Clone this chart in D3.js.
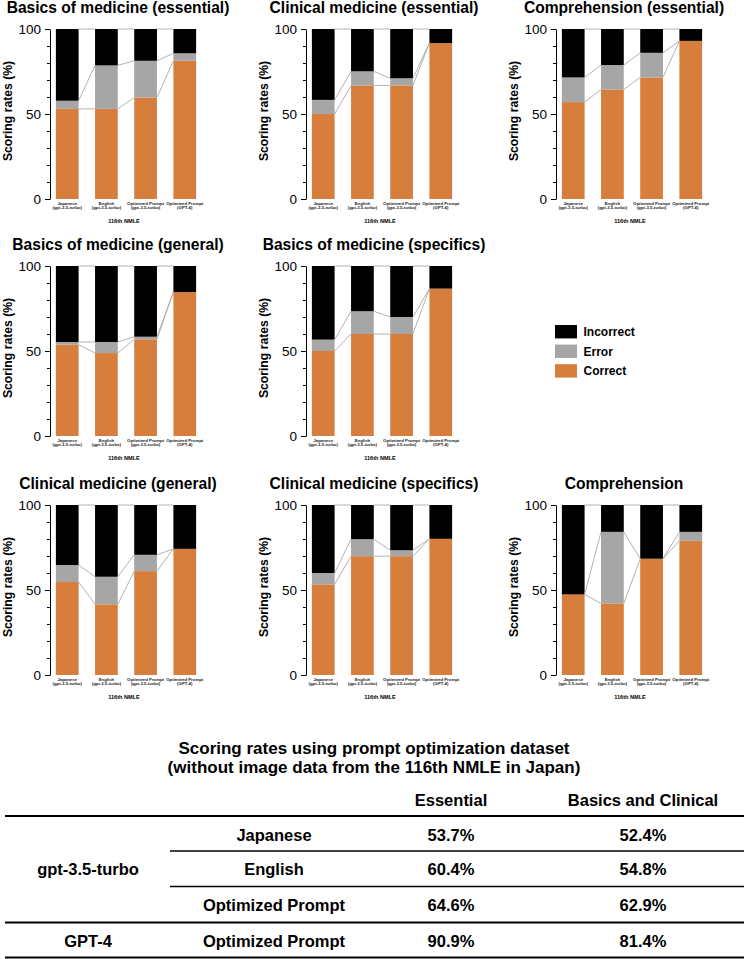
<!DOCTYPE html>
<html>
<head>
<meta charset="utf-8">
<script src="https://cdn.jsdelivr.net/npm/d3@7"></script>
<style>
  html, body { margin: 0; padding: 0; background: #fff; }
  svg { display: block; font-family: "Liberation Sans", Arial, Helvetica, sans-serif; }
</style>
</head>
<body>
<svg id="chart" width="744" height="959"></svg>
<script>
'use strict';

// categories on the x axis (two lines each)
const categories = ["ja", "en", "opt35", "opt4"];
const catLine1 = ["Japanese", "English", "Optimized Prompt", "Optimized Prompt"];
const catLine2 = ["(gpt-3.5-turbo)", "(gpt-3.5-turbo)", "(gpt-3.5-turbo)", "(GPT-4)"];
const segKeys = ["correct", "error", "incorrect"];
const legendLabels = ["Incorrect", "Error", "Correct"];
const yTicksMajor = [0, 50, 100];
const yTicksMinor = [10, 20, 30, 40, 60, 70, 80, 90];

// panel titles
const titles = [
  "Basics of medicine (essential)", "Clinical medicine (essential)", "Comprehension (essential)",
  "Basics of medicine (general)", "Basics of medicine (specifics)",
  "Clinical medicine (general)", "Clinical medicine (specifics)", "Comprehension"
];

// scoring rates (%) per panel, order: Japanese, English, Optimized 3.5, Optimized GPT-4
const correct = [
  [53.0, 53.0, 59.7, 81.3],
  [50.0, 66.8, 66.8, 91.7],
  [57.0, 64.4, 71.5, 93.0],
  [53.7, 48.8, 56.9, 84.7],
  [50.0, 60.0, 60.0, 86.7],
  [54.7, 41.6, 61.1, 74.2],
  [53.3, 69.9, 69.9, 80.1],
  [47.4, 42.1, 68.4, 78.9]
];
const error = [
  [4.8, 25.6, 21.6, 4.4],
  [8.3, 8.3, 4.2, 0],
  [14.5, 14.4, 14.5, 0],
  [1.6, 6.5, 1.5, 0],
  [6.7, 13.4, 10.0, 0],
  [10.0, 16.2, 9.6, 0],
  [6.7, 10.0, 3.5, 0],
  [0, 42.1, 0, 5.3]
];
const incorrect = [
  [42.2, 21.4, 18.7, 14.3],
  [41.7, 24.9, 29.0, 8.3],
  [28.5, 21.2, 14.0, 7.0],
  [44.7, 44.7, 41.6, 15.3],
  [43.3, 26.6, 30.0, 13.3],
  [35.3, 42.2, 29.3, 25.8],
  [40.0, 20.1, 26.6, 19.9],
  [52.6, 15.8, 31.6, 15.8]
];

// table below the charts
const tableTitle = ["Scoring rates using prompt optimization dataset",
                    "(without image data from the 116th NMLE in Japan)"];
const tableCols = ["Essential", "Basics and Clinical"];
const tableModels = ["gpt-3.5-turbo", "gpt-3.5-turbo", "gpt-3.5-turbo", "GPT-4"];
const tablePrompts = ["Japanese", "English", "Optimized Prompt", "Optimized Prompt"];
const tableEssential = ["53.7%", "60.4%", "64.6%", "90.9%"];
const tableBasicsClinical = ["52.4%", "54.8%", "62.9%", "81.4%"];

// layout settings
const CONFIG = {
  colX: [50, 306, 556],
  rowTop: [29, 266, 505],
  plotH: 170,
  plotW: 152,
  slots: [[0, 0], [0, 1], [0, 2], [1, 0], [1, 1], [2, 0], [2, 1], [2, 2]],
  colors: { correct: "#d77e3c", error: "#a6a6a6", incorrect: "#000000" },
  linkColor: "#a9a9a9"
};

const svg = d3.select("#chart");
svg.append("rect").attr("width", 744).attr("height", 959).attr("fill", "#fff");

titles.forEach((title, p) => {
  const [row, col] = CONFIG.slots[p];
  const left = CONFIG.colX[col];
  const top = CONFIG.rowTop[row];
  const g = svg.append("g").attr("transform", `translate(${left},${top})`);

  const x = d3.scaleBand().domain(categories).range([0, CONFIG.plotW])
    .paddingInner(0.42).paddingOuter(0.15);
  const y = d3.scaleLinear().domain([0, 100]).range([CONFIG.plotH, 0]);

  const rows = categories.map((c, i) => ({
    cat: c, correct: correct[p][i], error: error[p][i], incorrect: incorrect[p][i]
  }));
  const series = d3.stack().keys(segKeys)(rows);

  // stacked bars
  g.selectAll(".layer").data(series).enter().append("g")
    .attr("fill", d => CONFIG.colors[d.key])
    .selectAll("rect").data(d => d).enter().append("rect")
    .attr("x", d => x(d.data.cat))
    .attr("y", d => y(d[1]))
    .attr("width", x.bandwidth())
    .attr("height", d => y(d[0]) - y(d[1]));

  // connector lines between neighbouring bars
  series.forEach(s => {
    for (let i = 0; i < categories.length - 1; i++) {
      g.append("line")
        .attr("x1", x(categories[i]) + x.bandwidth())
        .attr("y1", y(s[i][1]))
        .attr("x2", x(categories[i + 1]))
        .attr("y2", y(s[i + 1][1]))
        .attr("stroke", CONFIG.linkColor)
        .attr("stroke-width", 0.9);
    }
  });

  // y axis: minor and major ticks
  g.append("g")
    .call(d3.axisLeft(y).tickValues(yTicksMinor).tickSize(3).tickFormat("").tickSizeOuter(0))
    .call(a => a.select(".domain").remove());
  const ax = g.append("g")
    .call(d3.axisLeft(y).tickValues(yTicksMajor).tickSize(5).tickPadding(4).tickSizeOuter(0));
  ax.selectAll("text").attr("font-size", 13.5).attr("font-family", "Liberation Sans, Arial, sans-serif").attr("fill", "#000");
  ax.selectAll("line, path").attr("stroke", "#000");

  // category labels
  const xl = g.append("g").attr("transform", `translate(0,${CONFIG.plotH})`);
  categories.forEach((c, i) => {
    const t = xl.append("text")
      .attr("x", x(c) + x.bandwidth() / 2)
      .attr("text-anchor", "middle")
      .attr("font-size", 4.3)
      .attr("font-weight", "bold")
      .attr("fill", "#222");
    t.append("tspan").attr("x", x(c) + x.bandwidth() / 2).attr("y", 5.6).text(catLine1[i]);
    t.append("tspan").attr("x", x(c) + x.bandwidth() / 2).attr("y", 10).text(catLine2[i]);
  });
  xl.append("text")
    .attr("x", CONFIG.plotW / 2 - 2).attr("y", 24)
    .attr("text-anchor", "middle")
    .attr("font-size", 5.6).attr("font-weight", "bold")
    .text("116th NMLE");

  // axis title and panel title
  g.append("text")
    .attr("transform", `translate(-38,${CONFIG.plotH / 2 - 3}) rotate(-90)`)
    .attr("text-anchor", "middle")
    .attr("font-size", 12.2).attr("font-weight", "bold")
    .text("Scoring rates (%)");
  g.append("text")
    .attr("x", 68).attr("y", -16)
    .attr("text-anchor", "middle")
    .attr("font-size", 15.6).attr("font-weight", "bold")
    .text(title);
});

// legend
const legend = svg.append("g").attr("transform", "translate(555,325)");
legendLabels.forEach((lab, i) => {
  const key = segKeys[segKeys.length - 1 - i];
  legend.append("rect")
    .attr("x", 0).attr("y", i * 19.6)
    .attr("width", 22).attr("height", 13.4)
    .attr("fill", CONFIG.colors[key]);
  legend.append("text")
    .attr("x", 28.5).attr("y", i * 19.6 + 11)
    .attr("font-size", 12).attr("font-weight", "bold")
    .text(lab);
});

// table
const tg = svg.append("g").attr("font-weight", "bold").attr("text-anchor", "middle");
tableTitle.forEach((t, i) => {
  tg.append("text").attr("x", 374).attr("y", 754 + i * 18.5).attr("font-size", 17).text(t);
});
const colCenters = [451, 643];
tableCols.forEach((t, i) => {
  tg.append("text").attr("x", colCenters[i]).attr("y", 805.5).attr("font-size", 16.5).text(t);
});
const rowY = [834.5, 868.5, 904.5, 940.5];
tablePrompts.forEach((t, i) => {
  tg.append("text").attr("x", 274).attr("y", rowY[i] + 6).attr("font-size", 16.5).text(t);
  tg.append("text").attr("x", colCenters[0]).attr("y", rowY[i] + 6).attr("font-size", 16.5).text(tableEssential[i]);
  tg.append("text").attr("x", colCenters[1]).attr("y", rowY[i] + 6).attr("font-size", 16.5).text(tableBasicsClinical[i]);
});
// model labels, merged over their rows
const models = Array.from(new Set(tableModels));
models.forEach(m => {
  const idx = tableModels.map((v, i) => v === m ? i : -1).filter(i => i >= 0);
  const cy = d3.mean(idx, i => rowY[i]);
  tg.append("text").attr("x", 88).attr("y", cy + 6).attr("font-size", 16.5).text(m);
});
// rules
const rules = [
  { y: 816, x1: 5, w: 2 },
  { y: 851, x1: 170, w: 1.5 },
  { y: 886.5, x1: 170, w: 1.5 },
  { y: 922.5, x1: 5, w: 2 },
  { y: 957.5, x1: 5, w: 2 }
];
rules.forEach(r => {
  svg.append("line").attr("x1", r.x1).attr("x2", 744).attr("y1", r.y).attr("y2", r.y)
    .attr("stroke", "#000").attr("stroke-width", r.w);
});
</script>
</body>
</html>
